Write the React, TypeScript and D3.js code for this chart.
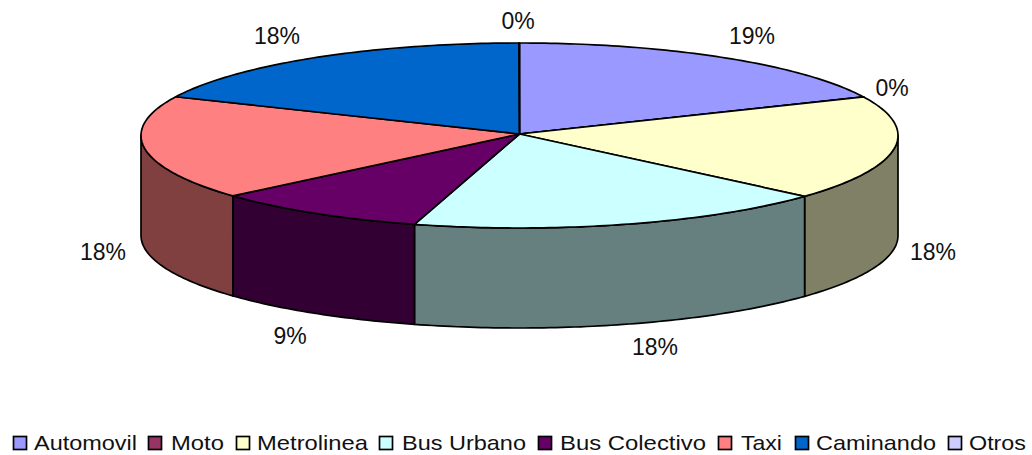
import React from "react";
import * as d3 from "d3";

const categories = ["Automovil", "Moto", "Metrolinea", "Bus Urbano", "Bus Colectivo", "Taxi", "Caminando", "Otros"];
const values = [18.15, 0.02, 18.25, 18.05, 9.2, 18.2, 18.1, 0.02];
const percentLabels = ["19%", "0%", "18%", "18%", "9%", "18%", "18%", "0%"];
const colors = ["#9999FF", "#993366", "#FFFFCC", "#CCFFFF", "#660066", "#FF8080", "#0066CC", "#CCCCFF"];

const W = 1032, H = 455;
const apex: [number, number] = [519.5, 134];
const cx = 519.5, cy = 135.5, rx = 378.5, ry = 92.5, depth = 100;
const labelPositions: [number, number][] = [[752, 36], [892, 88], [933, 252], [655, 347], [290, 336], [103, 252], [277, 36], [518, 21]];
const legendSwatchX = [13, 148, 236, 379, 538, 718, 795, 948];
const legendTextX = [34, 171, 257, 402, 560, 741, 816, 969];
const legendTextW = [103, 53, 111, 124, 146, 41, 120, 57];

const xs = d3.scaleLinear().domain([-1, 1]).range([cx - rx, cx + rx]);
const ys = d3.scaleLinear().domain([-1, 1]).range([cy + ry, cy - ry]);
const line = d3.line<[number, number]>();

const pie = d3.pie<number>().sort(null)(values);
const pt = (a: number, dy = 0): [number, number] => [xs(Math.sin(a)), ys(Math.cos(a)) + dy];
const arcPts = (a0: number, a1: number, dy = 0) => {
  const n = Math.max(2, Math.ceil(Math.abs(a1 - a0) * 60));
  return d3.range(n + 1).map((i) => pt(a0 + ((a1 - a0) * i) / n, dy));
};

const side = (c: string) => {
  const k = d3.rgb(c);
  return d3.rgb(k.r * 0.5, k.g * 0.5, k.b * 0.5).formatHex();
};

export default function App() {
  const stroke = { stroke: "#000", strokeWidth: 1.7, strokeLinejoin: "round" as const };
  return (
    <svg width={W} height={H} style={{ position: "absolute", left: 0, top: 0, background: "#fff" }} fontFamily="'Liberation Sans', Arial, sans-serif">
      {pie.map((d, i) => {
        const a0 = Math.max(d.startAngle, Math.PI / 2);
        const a1 = Math.min(d.endAngle, (3 * Math.PI) / 2);
        if (a1 <= a0) return null;
        const pts = [...arcPts(a0, a1), ...arcPts(a1, a0, depth)];
        return <path key={i} d={line(pts) + "Z"} fill={side(colors[i])} {...stroke} />;
      })}
      {pie.map((d, i) => (
        <path key={i} d={line([apex, ...arcPts(d.startAngle, d.endAngle)]) + "Z"} fill={colors[i]} {...stroke} />
      ))}
      {percentLabels.map((t, i) => (
        <text key={i} x={labelPositions[i][0]} y={labelPositions[i][1]} textAnchor="middle" dominantBaseline="central" fontSize={23} fill="#111">{t}</text>
      ))}
      {categories.map((c, i) => (
        <g key={c}>
          <rect x={legendSwatchX[i] + 0.5} y={436.5} width={13} height={13} fill={colors[i]} stroke="#000" strokeWidth={1.7} />
          <text x={legendTextX[i]} y={450} fontSize={21} textLength={legendTextW[i]} lengthAdjust="spacingAndGlyphs" fill="#111">{c}</text>
        </g>
      ))}
    </svg>
  );
}
